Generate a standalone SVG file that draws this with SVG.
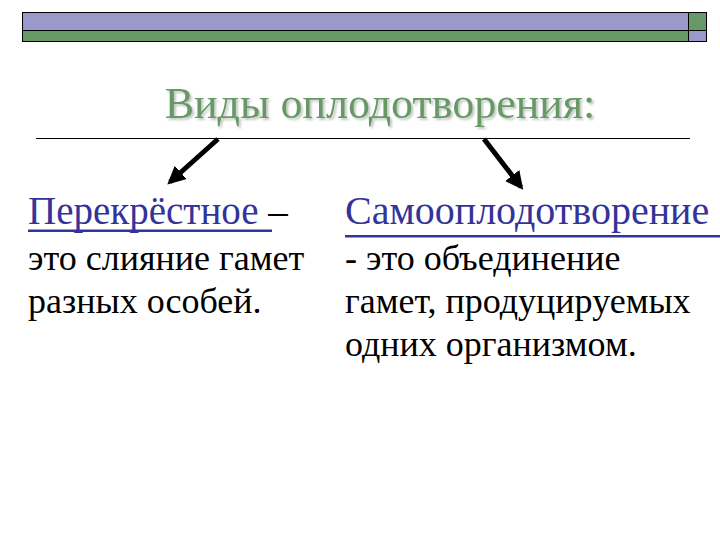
<svg xmlns="http://www.w3.org/2000/svg" width="720" height="540" viewBox="0 0 720 540">
<defs>
<style>
text{font-family:"Liberation Serif","DejaVu Serif",serif;}
.body{font-size:36px;fill:#000;}
.link{font-size:39px;fill:#333399;}
.link2{font-size:40px;fill:#333399;}
.title{font-size:44px;fill:#669966;}
.conn{stroke:#000;stroke-width:5;fill:none;marker-end:url(#ah);}
</style>
<filter id="sh" x="-5%" y="-20%" width="110%" height="140%">
<feDropShadow dx="2" dy="2" stdDeviation="1" flood-color="#b0b8b0" flood-opacity="0.8"/>
</filter>
<marker id="ah" viewBox="0 0 10 10" refX="8" refY="5" markerWidth="3.6" markerHeight="3.6" orient="auto" markerUnits="strokeWidth">
<path d="M0,0 L10,5 L0,10 Z" fill="#000"/>
</marker>
</defs>
<rect width="720" height="540" fill="#fff"/>
<g id="header">
<rect x="22.5" y="12.5" width="666" height="18" fill="#9999cc" stroke="#000" stroke-width="1"/>
<rect x="22.5" y="30.5" width="666" height="11" fill="#669966" stroke="#000" stroke-width="1"/>
<rect x="688.5" y="12.5" width="18" height="18" fill="#669966" stroke="#000" stroke-width="1"/>
<rect x="688.5" y="30.5" width="18" height="11" fill="#9999cc" stroke="#000" stroke-width="1"/>
</g>
<g id="title">
<text class="title" x="380" y="118" text-anchor="middle" filter="url(#sh)">Виды оплодотворения:</text>
<line x1="36" y1="138.5" x2="690" y2="138.5" stroke="#000" stroke-width="1"/>
</g>
<g id="connectors">
<line class="conn" x1="218" y1="139" x2="170" y2="182"/>
<line class="conn" x1="484" y1="139" x2="521" y2="187"/>
</g>
<g id="node-cross">
<text class="link" x="28" y="224" xml:space="preserve">Перекрёстное <tspan fill="#000">–</tspan></text>
<rect x="28" y="229.5" width="244" height="2.5" fill="#333399"/>
<text class="body" x="28" y="270">это слияние гамет</text>
<text class="body" x="28" y="313">разных особей.</text>
</g>
<g id="node-self">
<text class="link2" x="345" y="224">Самооплодотворение</text>
<rect x="345" y="235" width="375" height="2.5" fill="#333399"/>
<text class="body" x="345" y="270">- это объединение</text>
<text class="body" x="345" y="313">гамет, продуцируемых</text>
<text class="body" x="345" y="356">одних организмом.</text>
</g>
</svg>
